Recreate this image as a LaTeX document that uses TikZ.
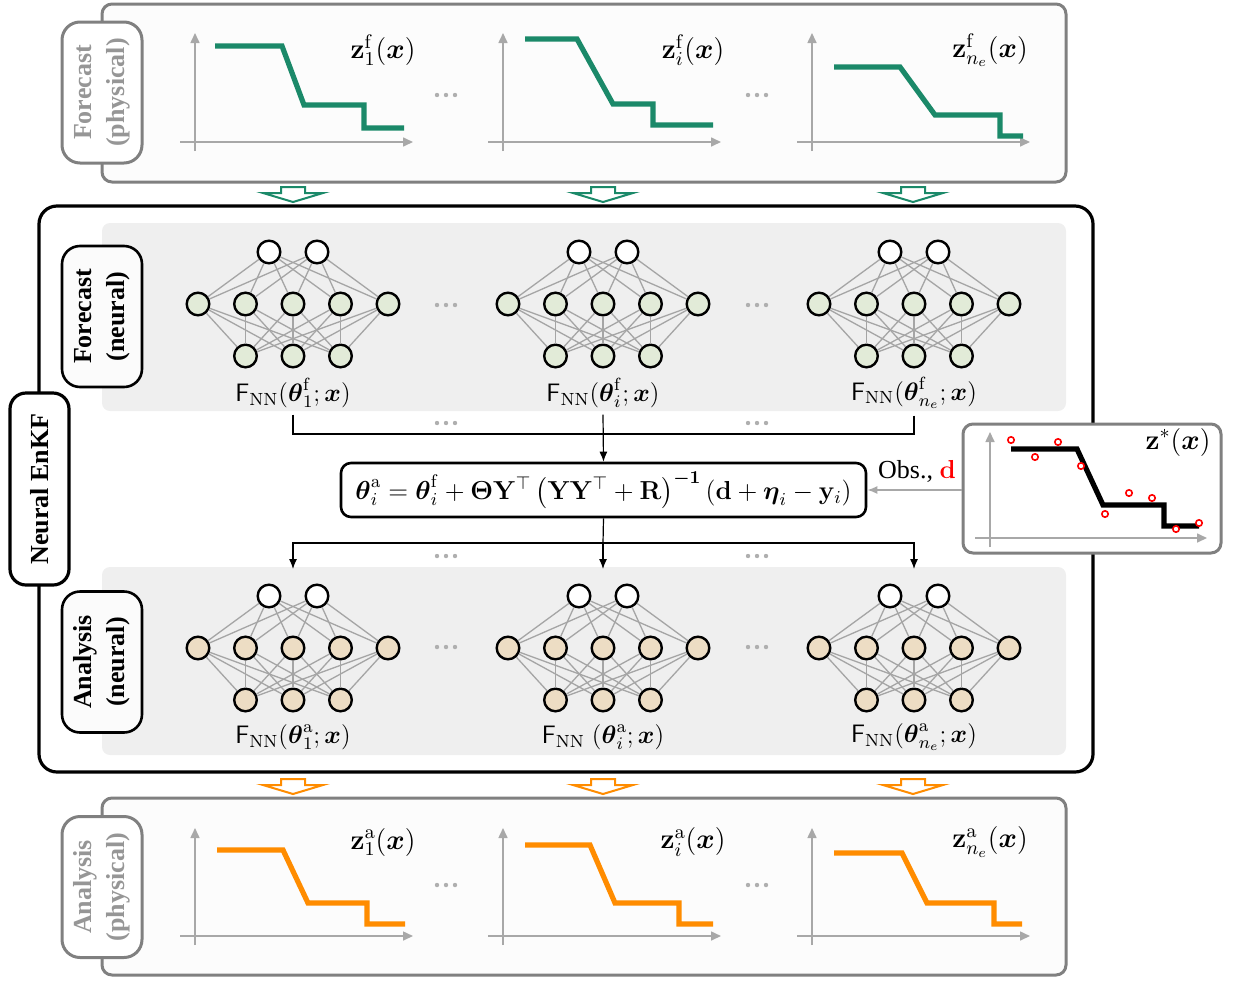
\RequirePackage{fix-cm}
\documentclass[tikz,border=0pt]{standalone}
\usepackage{amsmath,amssymb}
\usepackage[no-math]{fontspec}
\setmainfont{Liberation Serif}
\usetikzlibrary{arrows.meta,calc}

\definecolor{fgreen}{RGB}{27,137,105}
\definecolor{aorange}{RGB}{255,140,0}
\definecolor{panelgray}{RGB}{128,128,128}
\definecolor{labgray}{RGB}{150,150,150}
\definecolor{regiongray}{RGB}{239,239,239}
\definecolor{nngreen}{RGB}{226,235,216}
\definecolor{nntan}{RGB}{237,221,196}
\definecolor{edgegray}{RGB}{165,165,165}
\definecolor{axisgray}{RGB}{168,168,168}
\definecolor{dotgray}{RGB}{175,175,175}

% three-layer network: #1 name, #2 centre x, #3 top-layer y, #4 fill of hidden/output layers
\newcommand{\nnet}[4]{%
  \foreach \k/\dx in {1/-24,2/24}
    \node[neuron] (#1t\k) at (#2+\dx,#3) {};
  \foreach \k/\dx in {1/-95,2/-47.5,3/0,4/47.5,5/95}
    \node[neuron,fill=#4] (#1m\k) at (#2+\dx,#3+52) {};
  \foreach \k/\dx in {1/-47.5,2/0,3/47.5}
    \node[neuron,fill=#4] (#1b\k) at (#2+\dx,#3+104) {};
  \foreach \a in {1,2}
    \foreach \b in {1,...,5}
      \draw[edge] (#1t\a) -- (#1m\b);
  \foreach \a in {1,...,5}
    \foreach \b in {1,2,3}
      \draw[edge] (#1m\a) -- (#1b\b);
}
% plot axes: #1 x of vertical axis, #2 y of horizontal axis, #3 top of vertical axis
\newcommand{\plotaxes}[3]{%
  \draw[axis] (#1,#2+9) -- (#1,#3);
  \draw[axis] (#1-15,#2) -- (#1+218,#2);
}
% hollow block arrow: #1 centre x, #2 top y, #3 colour
\newcommand{\blockarrow}[3]{%
  \draw[#3, line width=1pt, fill=white, line join=miter]
    (#1-12,#2) -- (#1+12,#2) -- (#1+12,#2+6) -- (#1+30,#2+6) -- (#1,#2+15)
    -- (#1-30,#2+6) -- (#1-12,#2+6) -- cycle;
}
% ellipsis of three grey dots centred at (#1,#2)
\newcommand{\ellip}[2]{%
  \foreach \dx in {-9,0,9}
    \fill[dotgray] (#1+\dx,#2) circle[radius=1.1pt];
}

\begin{document}
\begin{tikzpicture}[x=0.5pt,y=-0.5pt,
  every node/.style={font=\fontsize{13}{15}\selectfont},
  neuron/.style={circle, draw=black, line width=1.2pt, minimum size=11.3pt, inner sep=0pt, fill=white},
  edge/.style={draw=edgegray, line width=0.65pt},
  physpanel/.style={draw=panelgray, line width=1.5pt, fill=gray!2, rounded corners=5pt},
  sidelabel/.style={rotate=90, align=center, font=\bfseries\fontsize{13}{16.5}\selectfont,
    minimum width=70.5pt, minimum height=40pt, rounded corners=9pt, inner sep=2pt},
  physlabel/.style={sidelabel, draw=panelgray, line width=1.5pt, text=labgray, fill=white},
  neurallabel/.style={sidelabel, draw=black, line width=1.3pt, fill=gray!3},
  plotlabel/.style={font=\fontsize{14}{16}\selectfont},
  nnlabel/.style={font=\fontsize{12.6}{15}\selectfont},
  axis/.style={draw=axisgray, line width=0.8pt, -{Triangle[length=5pt,width=4.5pt]}},
  curve/.style={line width=2.6pt},
  conn/.style={line width=0.6pt},
  arr/.style={conn, -{Latex[length=5pt,width=4pt]}},
  obsdot/.style={draw=red, line width=0.8pt, fill=white}]
\useasboundingbox (0,0) rectangle (1241,980);

%% ---------------- forecast, physical space ----------------
\draw[physpanel] (102,4) rectangle (1066,182);
\node[physlabel] (fplab) at (102,92.5) {Forecast\\(physical)};

\plotaxes{195}{142}{33}
\draw[curve,fgreen] (215,46) -- (282,46) -- (304,105) -- (364,105) -- (364,128) -- (404,128);
\node[plotlabel] (zf1) at (383,50) {$\mathbf{z}_1^{\mathrm{f}}(\boldsymbol{x})$};
\ellip{446}{95}

\plotaxes{503}{142}{33}
\draw[curve,fgreen] (525,39) -- (577,39) -- (613,104) -- (653,104) -- (653,125) -- (713,125);
\node[plotlabel] (zfi) at (693,50) {$\mathbf{z}_i^{\mathrm{f}}(\boldsymbol{x})$};
\ellip{757}{95}

\plotaxes{812}{142}{33}
\draw[curve,fgreen] (834,67) -- (900,67) -- (935,115) -- (1000,115) -- (1000,136) -- (1023,136);
\node[plotlabel] (zfn) at (990,50) {$\mathbf{z}_{n_e}^{\mathrm{f}}(\boldsymbol{x})$};

\blockarrow{293}{187}{fgreen}
\blockarrow{603}{187}{fgreen}
\blockarrow{913}{187}{fgreen}

%% ---------------- neural EnKF block ----------------
\draw[line width=1.6pt, rounded corners=9pt] (39,206) rectangle (1093,772);
\node[sidelabel, draw=black, line width=1.6pt, fill=white, minimum width=96pt,
  minimum height=29.5pt, rounded corners=8pt] (enkf) at (39.5,489) {Neural EnKF};

\fill[regiongray, rounded corners=4pt] (102,223) rectangle (1066,411);
\fill[regiongray, rounded corners=4pt] (102,567) rectangle (1066,755);

\node[neurallabel] (fnlab) at (102,316.5) {Forecast\\(neural)};
\node[neurallabel] (anlab) at (102,662) {Analysis\\(neural)};

% forecast ensemble of networks
\nnet{f1}{293}{252}{nngreen}
\nnet{f2}{603}{252}{nngreen}
\nnet{f3}{914}{252}{nngreen}
\node[nnlabel] (lf1) at (293,393) {$\mathsf{F}_{\mathrm{NN}}(\boldsymbol{\theta}_1^{\mathrm{f}};\boldsymbol{x})$};
\node[nnlabel] (lf2) at (603,393) {$\mathsf{F}_{\mathrm{NN}}(\boldsymbol{\theta}_i^{\mathrm{f}};\boldsymbol{x})$};
\node[nnlabel] (lf3) at (914,393) {$\mathsf{F}_{\mathrm{NN}}(\boldsymbol{\theta}_{n_e}^{\mathrm{f}};\boldsymbol{x})$};
\ellip{446}{305}
\ellip{757}{305}

% update formula
\node[draw=black, line width=1.3pt, fill=white, rounded corners=5pt,
  minimum width=262.5pt, minimum height=27pt, inner sep=1pt,
  font=\fontsize{13}{15}\selectfont] (upd) at (603.5,490)
  {$\boldsymbol{\theta}_i^{\mathrm{a}} = \boldsymbol{\theta}_i^{\mathrm{f}}
   + \boldsymbol{\Theta}\mathbf{Y}^{\top}\,\bigl(\mathbf{Y}\mathbf{Y}^{\top}+\mathbf{R}\bigr)^{\boldsymbol{-1}}\,
   (\mathbf{d}+\boldsymbol{\eta}_i-\mathbf{y}_i)$};

% gathering the forecast ensemble
\coordinate (jf) at (603,434);
\draw[conn] (lf1.south) |- (jf);
\draw[conn] (lf3.south) |- (jf);
\draw[arr] (lf2.south) -- (upd.north);
\ellip{446}{423}
\ellip{757}{423}

% spreading the analysis ensemble
\coordinate (ja) at (603,543);
\coordinate (ain1) at (293,569);
\coordinate (ain2) at (603,569);
\coordinate (ain3) at (914,569);
\draw[conn] (upd.south) -- (ja);
\draw[arr] (ja) -| (ain1);
\draw[arr] (ja) -| (ain3);
\draw[arr] (ja) -- (ain2);
\ellip{446}{556}
\ellip{757}{556}

% analysis ensemble of networks
\nnet{a1}{293}{596}{nntan}
\nnet{a2}{603}{596}{nntan}
\nnet{a3}{914}{596}{nntan}
\node[nnlabel] (la1) at (293,737) {$\mathsf{F}_{\mathrm{NN}}(\boldsymbol{\theta}_1^{\mathrm{a}};\boldsymbol{x})$};
\node[nnlabel] (la2) at (603,737) {$\mathsf{F}_{\mathrm{NN}}\;(\boldsymbol{\theta}_i^{\mathrm{a}};\boldsymbol{x})$};
\node[nnlabel] (la3) at (914,737) {$\mathsf{F}_{\mathrm{NN}}(\boldsymbol{\theta}_{n_e}^{\mathrm{a}};\boldsymbol{x})$};
\ellip{446}{647}
\ellip{757}{647}

%% ---------------- observations ----------------
\node[draw=panelgray, line width=1.5pt, fill=white, rounded corners=5pt,
  minimum width=129pt, minimum height=64.5pt] (obs) at (1092,488.5) {};
\draw[axis] (990,547) -- (990,432);
\draw[axis] (975,538) -- (1207,538);
\draw[curve,black] (1011,449) -- (1077,449) -- (1103,505) -- (1164,505) -- (1164,526) -- (1199,526);
\foreach \px/\py in {1011/440,1035/457,1058/442,1081/466,1105/514,1129/493,1152/498,1176/529,1199/523}
  \draw[obsdot] (\px,\py) circle[radius=1.6pt];
\node[plotlabel] (zstar) at (1178,442) {$\mathbf{z}^{*}(\boldsymbol{x})$};

\draw[draw=axisgray, line width=0.8pt, -{Latex[length=5pt,width=4pt]}]
  (obs.west |- upd.east) -- (upd.east);
\node (obslab) at (917,471) {Obs., $\color{red}\mathbf{d}$};

%% ---------------- analysis, physical space ----------------
\blockarrow{293}{779}{aorange}
\blockarrow{603}{779}{aorange}
\blockarrow{913}{779}{aorange}

\draw[physpanel] (102,798) rectangle (1066,975);
\node[physlabel] (aplab) at (102,887) {Analysis\\(physical)};

\plotaxes{195}{936}{828}
\draw[curve,aorange] (217,850) -- (283,850) -- (308,903) -- (367,903) -- (367,924) -- (405,924);
\node[plotlabel] (za1) at (383,842) {$\mathbf{z}_1^{\mathrm{a}}(\boldsymbol{x})$};
\ellip{446}{885}

\plotaxes{503}{936}{828}
\draw[curve,aorange] (525,845) -- (590,845) -- (615,903) -- (679,903) -- (679,924) -- (713,924);
\node[plotlabel] (zai) at (693,842) {$\mathbf{z}_i^{\mathrm{a}}(\boldsymbol{x})$};
\ellip{757}{885}

\plotaxes{812}{936}{828}
\draw[curve,aorange] (834,853) -- (902,853) -- (927,903) -- (994,903) -- (994,924) -- (1022,924);
\node[plotlabel] (zan) at (990,842) {$\mathbf{z}_{n_e}^{\mathrm{a}}(\boldsymbol{x})$};
\end{tikzpicture}
\end{document}
